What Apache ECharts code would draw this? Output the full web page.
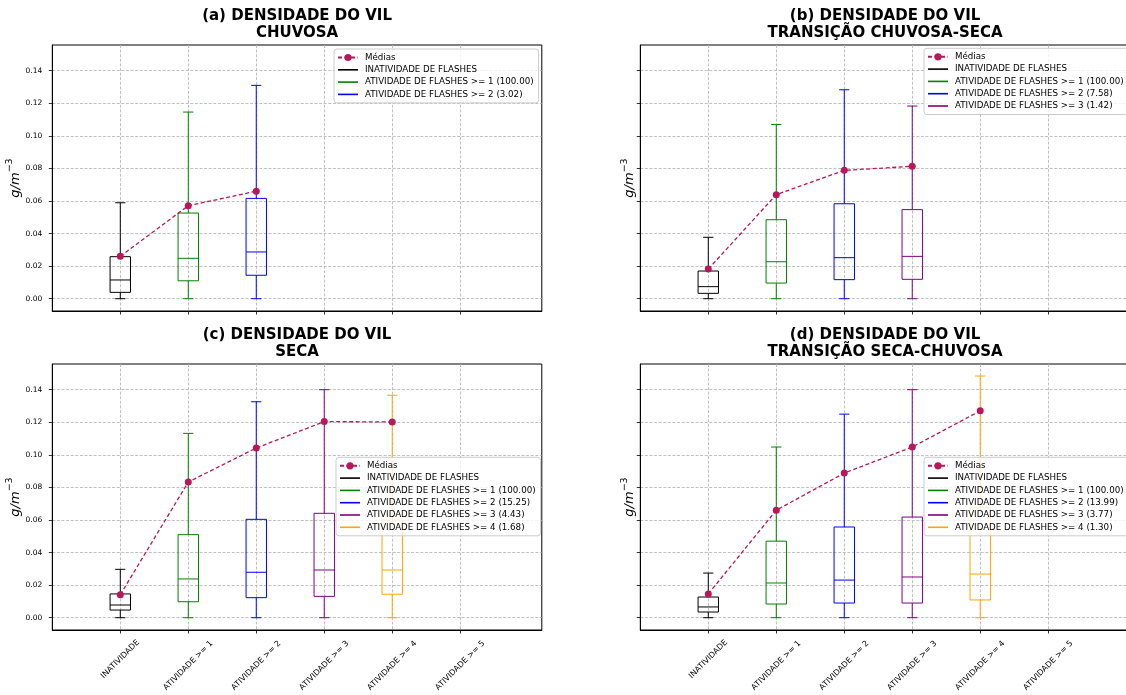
<!DOCTYPE html>
<html><head><meta charset="utf-8">
<script src="https://cdn.jsdelivr.net/npm/echarts@6/dist/echarts.min.js"></script>
<style>html,body{margin:0;padding:0;background:#fff}#c{width:1126px;height:695px}</style>
</head><body><div id="c"></div>
<script>
// ---- data ----
const categories = ['INATIVIDADE','ATIVIDADE >= 1','ATIVIDADE >= 2','ATIVIDADE >= 3','ATIVIDADE >= 4','ATIVIDADE >= 5'];
const yTicks = [0, 0.02, 0.04, 0.06, 0.08, 0.10, 0.12, 0.14];
const titles = ['(a) DENSIDADE DO VIL\nCHUVOSA','(b) DENSIDADE DO VIL\nTRANSIÇÃO CHUVOSA-SECA','(c) DENSIDADE DO VIL\nSECA','(d) DENSIDADE DO VIL\nTRANSIÇÃO SECA-CHUVOSA'];
const meanName = 'Médias';
const groupNames = ['INATIVIDADE DE FLASHES','ATIVIDADE DE FLASHES >= 1','ATIVIDADE DE FLASHES >= 2','ATIVIDADE DE FLASHES >= 3','ATIVIDADE DE FLASHES >= 4'];
// percentages shown in legends (per panel, groups >= 1 ...)
const pctA = ['100.00','3.02'];
const pctB = ['100.00','7.58','1.42'];
const pctC = ['100.00','15.25','4.43','1.68'];
const pctD = ['100.00','13.99','3.77','1.30'];
// boxes: [min, Q1, median, Q3, max]
const boxesA = [[0,0.0039,0.0115,0.0258,0.0589],[0,0.0110,0.0248,0.0526,0.1146],[0,0.0144,0.0287,0.0616,0.1310]];
const boxesB = [[0,0.0033,0.0074,0.0170,0.0377],[0,0.0096,0.0227,0.0485,0.1070],[0,0.0117,0.0252,0.0583,0.1283],[0,0.0119,0.0260,0.0547,0.1183]];
const boxesC = [[0,0.0047,0.0078,0.0146,0.0297],[0,0.0098,0.0238,0.0510,0.1132],[0,0.0123,0.0279,0.0604,0.1326],[0,0.0131,0.0293,0.0641,0.1400],[0,0.0144,0.0293,0.0600,0.1366]];
const boxesD = [[0,0.0035,0.0066,0.0127,0.0274],[0,0.0084,0.0213,0.0470,0.1048],[0,0.0090,0.0231,0.0557,0.1250],[0,0.0090,0.0250,0.0618,0.1400],[0,0.0109,0.0268,0.0675,0.1484]];
const meansA = [0.0260,0.0571,0.0660];
const meansB = [0.0182,0.0639,0.0788,0.0813];
const meansC = [0.0141,0.0833,0.1042,0.1204,0.1202];
const meansD = [0.0146,0.0660,0.0888,0.1048,0.1270];

// ---- styles ----
const colors = ['#000000','#008000','#0000ff','#800080','#ffa500'];
const meanColor = '#b8185a';
const FONT = 'DejaVu Sans';
const LINE_ICON = 'path://M0,0L20,0L20,1.6L0,1.6Z';

const panels = [
  {boxes: boxesA, means: meansA, pct: pctA, left: 52.3, top: 45, legLeft: 334, legTop: 49},
  {boxes: boxesB, means: meansB, pct: pctB, left: 640.3, top: 45, legLeft: 924, legTop: 48.3},
  {boxes: boxesC, means: meansC, pct: pctC, left: 52.3, top: 364, legLeft: 336, legTop: 457.3},
  {boxes: boxesD, means: meansD, pct: pctD, left: 640.3, top: 364, legLeft: 924, legTop: 457.3}
];
const GW = 489.5, GH = 266;

function seriesName(i, pct) {
  return i === 0 ? groupNames[0] : groupNames[i] + ' (' + pct[i - 1] + ')';
}

function renderBox(params, api) {
  const x = api.value(0);
  const mn = api.value(1), q1 = api.value(2), md = api.value(3), q3 = api.value(4), mx = api.value(5);
  const color = api.visual('color');
  const xl = api.coord([x - 0.15, md])[0], xr = api.coord([x + 0.15, md])[0];
  const cl = api.coord([x - 0.075, md])[0], cr = api.coord([x + 0.075, md])[0];
  const xc = api.coord([x, md])[0];
  const yMd = api.coord([x, md])[1], yQ1 = api.coord([x, q1])[1], yQ3 = api.coord([x, q3])[1];
  const yMn = api.coord([x, mn])[1], yMx = api.coord([x, mx])[1];
  const st = {stroke: color, lineWidth: 1, fill: null};
  return {type: 'group', children: [
    {type: 'rect', shape: {x: xl, y: yQ3, width: xr - xl, height: yQ1 - yQ3}, style: st},
    {type: 'line', shape: {x1: xl, y1: yMd, x2: xr, y2: yMd}, style: st},
    {type: 'line', shape: {x1: xc, y1: yQ3, x2: xc, y2: yMx}, style: st},
    {type: 'line', shape: {x1: xc, y1: yQ1, x2: xc, y2: yMn}, style: st},
    {type: 'line', shape: {x1: cl, y1: yMx, x2: cr, y2: yMx}, style: st},
    {type: 'line', shape: {x1: cl, y1: yMn, x2: cr, y2: yMn}, style: st}
  ]};
}

const grid = [], xAxis = [], yAxis = [], series = [], legend = [], title = [];
const gridLine = {show: true, lineStyle: {color: '#b0b0b0', width: 0.8, type: [3, 1.6]}};
const tickValsX = categories.map((c, i) => i + 1);

panels.forEach((p, k) => {
  const bottomRow = k >= 2, leftCol = (k % 2) === 0;
  grid.push({left: p.left, top: p.top, width: GW, height: GH, show: true, borderColor: '#000', borderWidth: 1, containLabel: false, outerBoundsMode: 'none'});
  title.push({text: titles[k], left: p.left + GW / 2, top: p.top - 37, textAlign: 'center', padding: 0,
    textStyle: {fontSize: 15, fontWeight: 'bold', fontFamily: FONT, color: '#000', lineHeight: 16.5}});
  xAxis.push({
    type: 'value', gridIndex: k, min: 0, max: 7.2,
    axisLine: {show: true, onZero: false, lineStyle: {color: '#000', width: 1}},
    axisTick: {show: true, length: 3.5, customValues: tickValsX, lineStyle: {color: '#000', width: 0.8}},
    splitLine: gridLine,
    axisLabel: {show: bottomRow, customValues: tickValsX, rotate: 45, align: 'center', verticalAlign: 'middle', margin: 35.5,
      fontSize: 8, fontFamily: FONT, color: '#000',
      formatter: v => (v === 1 ? '{s|' + categories[0] + '}' : '{n|' + (categories[v - 1] || '') + '}'),
      rich: {s: {fontSize: 8, fontFamily: FONT, color: '#000', padding: [0, 0, 9, 9]}, n: {fontSize: 8, fontFamily: FONT, color: '#000'}}}
  });
  yAxis.push({
    type: 'value', gridIndex: k, min: -0.00755, max: 0.15578,
    axisLine: {show: true, onZero: false, lineStyle: {color: '#000', width: 1}},
    axisTick: {show: true, length: 3.5, customValues: yTicks, lineStyle: {color: '#000', width: 0.8}},
    splitLine: gridLine,
    axisLabel: {show: leftCol, customValues: yTicks, margin: 10, fontSize: 7.5, fontFamily: FONT, color: '#000', formatter: v => v.toFixed(2)},
    name: '{a|g/}{b|m}{c|−3}', nameLocation: 'middle', nameRotate: 90, nameGap: leftCol ? 27 : 4,
    nameTextStyle: {fontSize: 13, fontFamily: FONT, color: '#000',
      rich: {a: {fontSize: 13, fontFamily: FONT, fontStyle: 'italic', color: '#000', lineHeight: 17, verticalAlign: 'bottom'},
             b: {fontSize: 13, fontFamily: FONT, fontStyle: 'italic', color: '#000', lineHeight: 17, verticalAlign: 'bottom'},
             c: {fontSize: 9.5, fontFamily: FONT, color: '#000', lineHeight: 17, verticalAlign: 'top'}}}
  });
  const legData = [{name: meanName}];
  p.boxes.forEach((b, i) => {
    const nm = seriesName(i, p.pct);
    legData.push({name: nm, icon: LINE_ICON});
    series.push({
      type: 'custom', name: nm, xAxisIndex: k, yAxisIndex: k, renderItem: renderBox,
      itemStyle: {color: colors[i]}, encode: {x: 0, y: [1, 2, 3, 4, 5]},
      data: [[i + 1].concat(b)], z: 2, silent: true
    });
  });
  series.push({
    type: 'line', name: meanName, xAxisIndex: k, yAxisIndex: k,
    data: p.means.map((m, i) => [i + 1, m]),
    symbol: 'circle', symbolSize: 7, showSymbol: true,
    itemStyle: {color: meanColor}, lineStyle: {color: meanColor, width: 1.3, type: [4, 2.5]}, z: 5, silent: true
  });
  legend.push({
    orient: 'vertical', left: p.legLeft, top: p.legTop, itemWidth: 20, itemHeight: 9, itemGap: 3.3,
    padding: [4, 5, 4, 3], backgroundColor: 'rgba(255,255,255,0.8)', borderColor: '#cccccc', borderWidth: 1, borderRadius: 3,
    textStyle: {fontSize: 8.7, fontFamily: FONT, color: '#000', padding: [0, 0, 0, 2]},
    data: legData, selectedMode: false
  });
});

const chart = echarts.init(document.getElementById('c'), null, {renderer: 'canvas'});
chart.setOption({backgroundColor: '#fff', animation: false, grid, xAxis, yAxis, series, legend, title});
</script>
</body></html>
